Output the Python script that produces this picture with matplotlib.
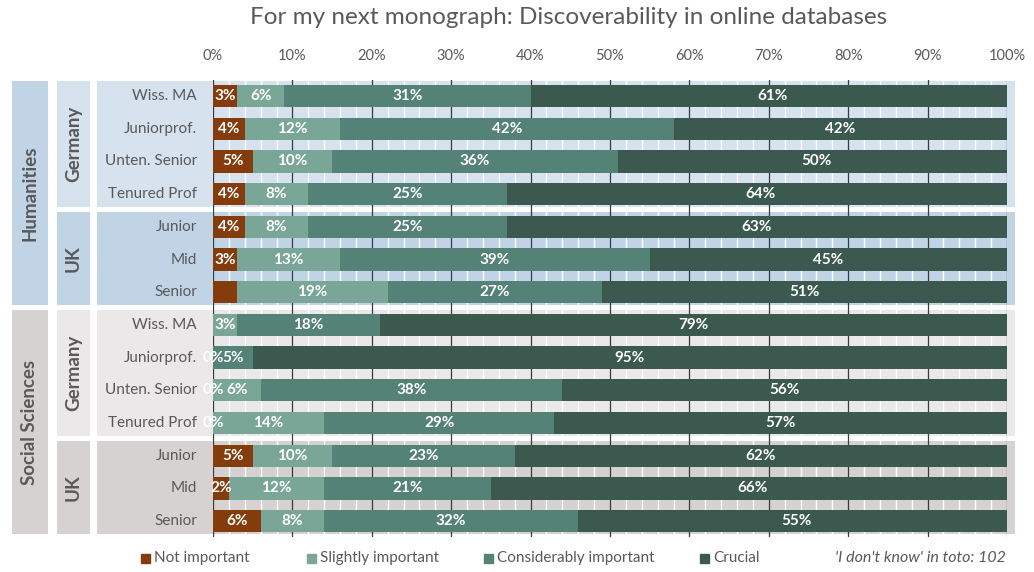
import numpy as np
import matplotlib.pyplot as plt
from matplotlib.patches import Rectangle

plt.rcParams['font.family'] = ['Lato', 'DejaVu Sans']

title = 'For my next monograph: Discoverability in online databases'
positions = ['Wiss. MA', 'Juniorprof.', 'Unten. Senior', 'Tenured Prof',
             'Junior', 'Mid', 'Senior',
             'Wiss. MA', 'Juniorprof.', 'Unten. Senior', 'Tenured Prof',
             'Junior', 'Mid', 'Senior']
disciplines = ['Humanities', 'Social Sciences']
countries = ['Germany', 'UK', 'Germany', 'UK']
country_rows = [4, 3, 4, 3]
categories = ['Not important', 'Slightly important', 'Considerably important', 'Crucial']

# shares in percent, one entry per row (top to bottom)
not_important = [3, 4, 5, 4, 4, 3, 3, np.nan, 0, 0, 0, 5, 2, 6]
slightly = [6, 12, 10, 8, 8, 13, 19, 3, np.nan, 6, 14, 10, 12, 8]
considerably = [31, 42, 36, 25, 25, 39, 27, 18, 5, 38, 29, 23, 21, 32]
crucial = [61, 42, 50, 64, 63, 45, 51, 79, 95, 56, 57, 62, 66, 55]
unlabelled = [(6, 0)]  # row, series
dont_know_total = 102

colors = ['#843c0c', '#7aa698', '#558276', '#3c5950']
panel_light = {'Humanities': '#d6e2ee', 'Social Sciences': '#eae8e8'}
panel_dark = {'Humanities': '#c1d4e6', 'Social Sciences': '#d6d2d2'}
grey = '#595959'

W, H = 1034, 572
fig = plt.figure(figsize=(W / 100, H / 100), dpi=100)
x0, x1 = 213, 1007
y_top, y_bot = 79.65, 537.45
ax = fig.add_axes([x0 / W, 1 - y_bot / H, (x1 - x0) / W, (y_bot - y_top) / H])

n = len(positions)
y = np.arange(n)
series = [not_important, slightly, considerably, crucial]
left = np.zeros(n)
for k, (vals, c) in enumerate(zip(series, colors)):
    vals = np.array(vals, dtype=float)
    ax.barh(y, vals, left=left, height=0.68, color=c, zorder=2, label=categories[k])
    for i in range(n):
        if np.isnan(vals[i]) or (i, k) in unlabelled:
            continue
        ax.text(left[i] + vals[i] / 2, i, f'{vals[i]:.0f}%', ha='center', va='center',
                color='white', fontsize=11, fontweight='bold', zorder=3)
    left += np.nan_to_num(vals)

ax.set_xlim(0, 100)
ax.set_ylim(n - 0.5, -0.5)
ax.set_yticks([])
ax.xaxis.tick_top()
ax.set_xticks(range(0, 101, 10))
ax.set_xticklabels([f'{v}%' for v in range(0, 101, 10)], color=grey, fontsize=10.5)
ax.set_xticks(range(0, 101, 2), minor=True)
ax.tick_params(which='both', length=0, pad=12)
ax.grid(which='minor', axis='x', color='white', lw=1.0)
ax.grid(which='major', axis='x', color='#3a3a3a', lw=0.9)
ax.set_axisbelow(True)
for s in ax.spines.values():
    s.set_visible(False)
ax.patch.set_alpha(0)

# px -> data helpers for the side panels
px = lambda p: (p - x0) / (x1 - x0) * 100

start = 0
for gi, (country, rows) in enumerate(zip(countries, country_rows)):
    disc = disciplines[0] if gi < 2 else disciplines[1]
    light = panel_light[disc] if country == 'Germany' else panel_dark[disc]
    top, bot = start - 0.46, start + rows - 0.6
    ax.add_patch(Rectangle((px(97), top), px(1015) - px(97), bot - top,
                           color=light, zorder=0, clip_on=False, lw=0))
    ax.add_patch(Rectangle((px(57), top), px(90) - px(57), bot - top,
                           color=light, zorder=0, clip_on=False, lw=0))
    ax.text(px(73.5), (top + bot) / 2, country, rotation=90, ha='center', va='center',
            color=grey, fontsize=13.5, fontweight='bold')
    start += rows

for di, disc in enumerate(disciplines):
    top, bot = 7 * di - 0.46, 7 * di + 7 - 0.6
    ax.add_patch(Rectangle((px(12), top), px(48) - px(12), bot - top,
                           color=panel_dark[disc], zorder=0, clip_on=False, lw=0))
    ax.text(px(30), (top + bot) / 2, disc, rotation=90, ha='center', va='center',
            color=grey, fontsize=13.5, fontweight='bold')

for i, lab in enumerate(positions):
    ax.text(px(197), i, lab, ha='right', va='center', color=grey, fontsize=11)

fig.text(569 / W, 1 - 18 / H, title, ha='center', va='center', color=grey, fontsize=17.5)

# legend along the bottom
leg_y = 1 - 558 / H
for c, lab, xs in zip(colors, categories, [141, 307, 484, 700]):
    fig.patches.append(Rectangle((xs / W, leg_y - 4.5 / H), 9 / W, 9 / H, color=c,
                                 transform=fig.transFigure, figure=fig))
    fig.text((xs + 13) / W, leg_y, lab, ha='left', va='center', color=grey, fontsize=11)
fig.text(1006 / W, leg_y, f"'I don't know' in toto: {dont_know_total}", ha='right',
         va='center', color=grey, fontsize=11.5, style='italic')

fig.savefig('out.png', dpi=100, facecolor='white')
